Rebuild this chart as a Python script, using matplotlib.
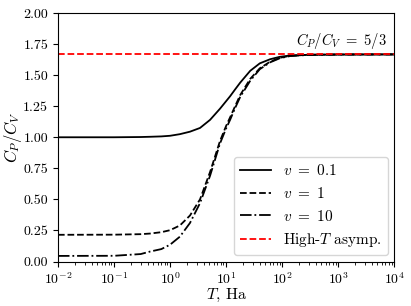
import numpy as np
import matplotlib
matplotlib.use("Agg")
import matplotlib.pyplot as plt

plt.rcParams['font.family'] = 'serif'
plt.rcParams['font.serif'] = ['cmr10']
plt.rcParams['mathtext.fontset'] = 'cm'
plt.rcParams['axes.formatter.use_mathtext'] = True

# Temperature grid (Ha) and C_P/C_V
T = [0.01, 0.1, 0.3, 0.44, 0.7, 1.0, 1.5, 2.27, 3.43, 5.18, 7.8, 10, 11.8,
     14.5, 17.9, 27, 40, 61, 92, 140, 300, 1000, 10000]
ratio_v01 = [1.0, 1.0, 1.002, 1.004, 1.007, 1.012, 1.025, 1.045, 1.075, 1.14, 1.23, 1.29, 1.33,
             1.385, 1.44, 1.535, 1.595, 1.628, 1.648, 1.658, 1.664, 1.666, 1.667]
ratio_v1 = [0.215, 0.216, 0.22, 0.225, 0.236, 0.252, 0.29, 0.37, 0.50, 0.72, 0.97, 1.09, 1.16,
            1.25, 1.34, 1.47, 1.555, 1.608, 1.64, 1.656, 1.664, 1.666, 1.667]
ratio_v10 = [0.045, 0.046, 0.06, 0.08, 0.10, 0.135, 0.20, 0.31, 0.47, 0.69, 0.95, 1.07, 1.14,
             1.235, 1.325, 1.455, 1.548, 1.603, 1.637, 1.654, 1.663, 1.666, 1.667]
high_T = 5 / 3

fig = plt.figure(figsize=(4.11, 3.06), dpi=100)
ax = fig.add_axes([0.141, 0.1454, 0.818, 0.812])

ax.plot(T, ratio_v01, 'k-', lw=1.3, label=r'$v\ =\ 0.1$')
ax.plot(T, ratio_v1, 'k--', lw=1.3, label=r'$v\ =\ 1$')
ax.plot(T, ratio_v10, 'k-.', lw=1.3, label=r'$v\ =\ 10$')
ax.axhline(high_T, color='red', ls='--', lw=1.3, label=r'High-$T$ asymp.')
ax.text(7.5e3, 1.695, r'$C_P/C_V\ =\ 5/3$', ha='right', va='bottom', fontsize=10.5)

ax.set_xscale('log')
ax.set_xlim(1e-2, 1e4)
ax.set_ylim(0, 2)
ax.set_yticks(np.arange(0, 2.01, 0.25))
ax.set_yticklabels([f"{v:.2f}" for v in np.arange(0, 2.01, 0.25)])
ax.tick_params(labelsize=10)
ax.set_xlabel(r'$T$, Ha', fontsize=11.5, labelpad=0)
ax.set_ylabel(r'$C_P/C_V$', fontsize=12)
ax.yaxis.set_label_coords(-0.1, 0.5)
ax.legend(loc='lower right', fontsize=11, borderaxespad=0.4)

fig.savefig("out.png", dpi=100)
